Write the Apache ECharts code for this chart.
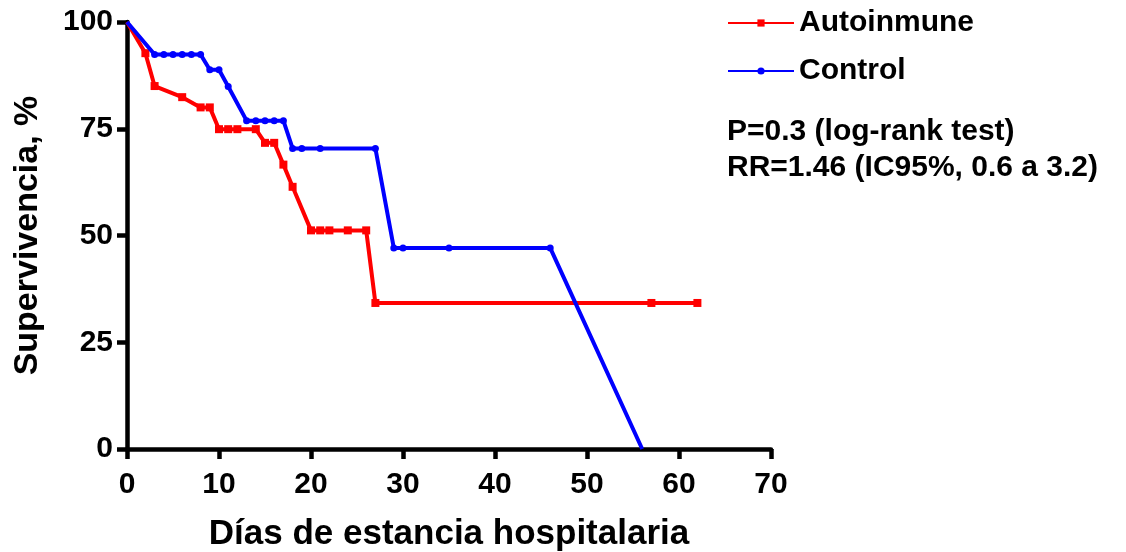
<!DOCTYPE html>
<html>
<head>
<meta charset="utf-8">
<script src="https://cdn.jsdelivr.net/npm/echarts@6/dist/echarts.min.js"></script>
<style>
    html, body { margin: 0; padding: 0; background: #fff; }
    #main { width: 1126px; height: 552px; }
</style>
</head>
<body>
<div id="main"></div>
<script>
const autoDays = [0, 2, 3, 6, 8, 9, 10, 11, 12, 14, 15, 16, 17, 18, 20, 21, 22, 24, 26, 27, 57, 62]
const autoSurv = [100, 92.7, 85, 82.4, 80, 80, 74.9, 74.9, 74.9, 74.9, 71.7, 71.7, 66.6, 61.4, 51.2, 51.2, 51.2, 51.2, 51.2, 34.2, 34.2, 34.2]

const controlDays = [0, 3, 4, 5, 6, 7, 8, 9, 10, 11, 13, 14, 15, 16, 17, 18, 19, 21, 27, 29, 30, 35, 46, 56]
const controlSurv = [100, 92.4, 92.4, 92.4, 92.4, 92.4, 92.4, 88.8, 88.8, 84.9, 76.9, 76.9, 76.9, 76.9, 76.9, 70.4, 70.4, 70.4, 70.4, 47.1, 47.1, 47.1, 47.1, 0]

const xTicks = [0, 10, 20, 30, 40, 50, 60, 70]
const yTicks = [0, 25, 50, 75, 100]

const seriesNames = ['Autoinmune', 'Control']
const statsLines = ['P=0.3 (log-rank test)', 'RR=1.46 (IC95%, 0.6 a 3.2)']

function zip(xs, ys) {
    return xs.map((x, i) => [x, ys[i]])
}

const font = 'Liberation Sans, Arial, sans-serif'

let myChart = echarts.init(document.getElementById('main'))

const axisStyle = {
    axisLine: { show: true, lineStyle: { color: '#000', width: 4.5 } },
    axisTick: { show: true, length: 10, lineStyle: { color: '#000', width: 4.5 } },
    splitLine: { show: false }
}

myChart.setOption({
    animation: false,
    backgroundColor: '#fff',
    grid: {
        left: 127,
        right: 355,
        top: 22,
        bottom: 103,
        outerBoundsMode: 'none'
    },
    legend: {
        orient: 'vertical',
        left: 727,
        top: 7,
        padding: 0,
        itemWidth: 66,
        itemHeight: 9,
        itemGap: 16,
        data: seriesNames,
        textStyle: {
            fontFamily: font,
            fontWeight: 'bold',
            fontSize: 30,
            lineHeight: 32,
            color: '#000'
        }
    },
    xAxis: {
        type: 'value',
        min: xTicks[0],
        max: xTicks[xTicks.length - 1],
        interval: 10,
        ...axisStyle,
        axisLabel: {
            margin: 21,
            fontFamily: font,
            fontWeight: 'bold',
            fontSize: 30,
            color: '#000'
        },
        name: 'Días de estancia hospitalaria',
        nameLocation: 'middle',
        nameGap: 68,
        nameTextStyle: {
            fontFamily: font,
            fontWeight: 'bold',
            fontSize: 35,
            color: '#000'
        }
    },
    yAxis: {
        type: 'value',
        min: yTicks[0],
        max: yTicks[yTicks.length - 1],
        interval: 25,
        ...axisStyle,
        axisLabel: {
            margin: 14,
            fontFamily: font,
            fontWeight: 'bold',
            fontSize: 30,
            color: '#000'
        },
        name: 'Supervivencia, %',
        nameLocation: 'middle',
        nameGap: 82,
        nameTextStyle: {
            fontFamily: font,
            fontWeight: 'bold',
            fontSize: 34,
            color: '#000'
        }
    },
    graphic: [
        {
            type: 'text',
            left: 727,
            top: 114,
            style: {
                text: statsLines.join('\n'),
                font: 'bold 30px ' + font,
                lineHeight: 36,
                fill: '#000'
            }
        }
    ],
    series: [
        {
            name: seriesNames[0],
            type: 'line',
            data: zip(autoDays, autoSurv),
            color: '#ff0000',
            symbol: 'rect',
            symbolSize: (v, p) => p.dataIndex === 0 ? 0 : 8,
            showAllSymbol: true,
            lineStyle: { width: 4, color: '#ff0000' },
            itemStyle: { color: '#ff0000' },
            z: 3
        },
        {
            name: seriesNames[1],
            type: 'line',
            data: zip(controlDays, controlSurv),
            color: '#0000ff',
            symbol: 'circle',
            symbolSize: (v, p) => (p.dataIndex === 0 || p.dataIndex === controlDays.length - 1) ? 0 : 7,
            showAllSymbol: true,
            lineStyle: { width: 4, color: '#0000ff' },
            itemStyle: { color: '#0000ff' },
            z: 4
        }
    ]
})
</script>
</body>
</html>
